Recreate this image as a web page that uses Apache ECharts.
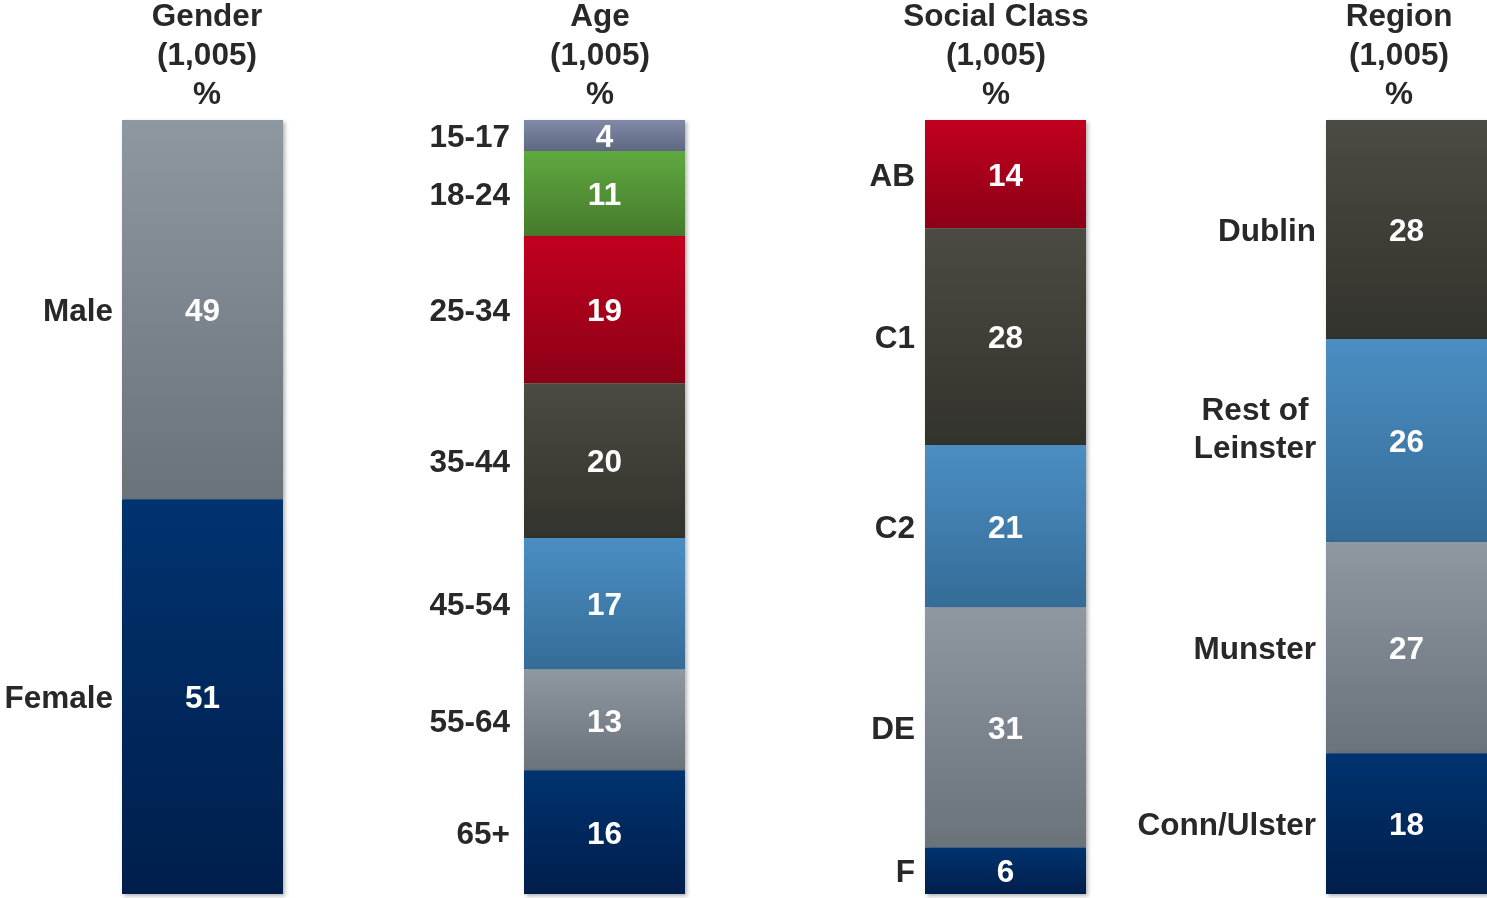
<!DOCTYPE html>
<html>
<head>
<meta charset="utf-8">
<script src="https://cdn.jsdelivr.net/npm/echarts@6/dist/echarts.min.js"></script>
<style>
html,body{margin:0;padding:0;background:#fff;}
#chart{width:1487px;height:898px;}
</style>
</head>
<body>
<div id="chart"></div>
<script>
// ---- data ----
const titles = ['Gender\n(1,005)\n%', 'Age\n(1,005)\n%', 'Social Class\n(1,005)\n%', 'Region\n(1,005)\n%'];
const genderCats = ['Male', 'Female'];
const genderVals = [49, 51];
const ageCats = ['15-17', '18-24', '25-34', '35-44', '45-54', '55-64', '65+'];
const ageVals = [4, 11, 19, 20, 17, 13, 16];
const classCats = ['AB', 'C1', 'C2', 'DE', 'F'];
const classVals = [14, 28, 21, 31, 6];
const regionCats = ['Dublin', 'Rest of\nLeinster', 'Munster', 'Conn/Ulster'];
const regionVals = [28, 26, 27, 18];

// ---- styling ----
const pal = {
  gray: ['#8e98a0', '#6a727a'],
  navy: ['#00336f', '#001e4c'],
  red: ['#c1001f', '#8c0016'],
  charcoal: ['#4b4b43', '#33332d'],
  steel: ['#4b8ec3', '#356c97'],
  green: ['#5fa940', '#467a2c'],
  slate: ['#8089a7', '#5f6881']
};
const colorKeys = [
  ['gray', 'navy'],
  ['slate', 'green', 'red', 'charcoal', 'steel', 'gray', 'navy'],
  ['red', 'charcoal', 'steel', 'gray', 'navy'],
  ['charcoal', 'steel', 'gray', 'navy']
];
const panels = [
  {cats: genderCats, vals: genderVals},
  {cats: ageCats, vals: ageVals},
  {cats: classCats, vals: classVals},
  {cats: regionCats, vals: regionVals}
];
const barLefts = [122, 524, 925, 1326];
const barWidth = 161;
const labelDist = [9, 14, 10, 10];
const titleX = [207, 600, 996, 1399];
const FONT = '"Liberation Sans", Arial, sans-serif';
const FS = 31.5;
const textColor = '#282828';

const grid = [], xAxis = [], yAxis = [], series = [], graphic = [];
panels.forEach((p, i) => {
  const total = p.vals.reduce((a, b) => a + b, 0);
  grid.push({left: barLefts[i], top: 120, width: barWidth, height: 774});
  xAxis.push({type: 'category', gridIndex: i, data: ['x'], show: false});
  yAxis.push({type: 'value', gridIndex: i, min: 0, max: total, inverse: true, show: false});
  p.vals.forEach((v, j) => {
    const c = pal[colorKeys[i][j]];
    series.push({
      type: 'bar', xAxisIndex: i, yAxisIndex: i, stack: 'v' + i,
      barWidth: '100%', barGap: '-100%', z: 2,
      data: [v],
      itemStyle: {
        color: new echarts.graphic.LinearGradient(0, 0, 0, 1, [
          {offset: 0, color: c[0]}, {offset: 1, color: c[1]}
        ]),
        shadowColor: 'rgba(0,0,0,0.3)', shadowBlur: 4, shadowOffsetX: 2, shadowOffsetY: 2
      },
      label: {show: true, position: 'inside', offset: [0, 3], color: '#fff', fontSize: FS, fontWeight: 'bold', fontFamily: FONT},
      silent: true
    });
    const name = p.cats[j];
    const item = {value: v, name: name};
    if (name.indexOf('\n') >= 0) {
      item.label = {align: 'center', offset: [-61, -10]};
    }
    series.push({
      type: 'bar', xAxisIndex: i, yAxisIndex: i, stack: 'l' + i,
      barWidth: '100%', barGap: '-100%', z: 3,
      data: [item],
      itemStyle: {color: 'rgba(0,0,0,0)'},
      label: {
        show: true, position: 'left', distance: labelDist[i], offset: [0, 3], formatter: '{b}',
        color: textColor, fontSize: FS, fontWeight: 'bold', fontFamily: FONT, lineHeight: 38
      },
      silent: true
    });
  });
  graphic.push({
    type: 'text', x: titleX[i], y: -2,
    style: {
      text: titles[i], align: 'center', verticalAlign: 'top',
      fontSize: FS, fontWeight: 'bold', fontFamily: FONT, lineHeight: 39, fill: textColor
    }
  });
});

const chart = echarts.init(document.getElementById('chart'), null, {renderer: 'canvas'});
chart.setOption({
  animation: false,
  backgroundColor: '#fff',
  grid, xAxis, yAxis, series, graphic
});
</script>
</body>
</html>
